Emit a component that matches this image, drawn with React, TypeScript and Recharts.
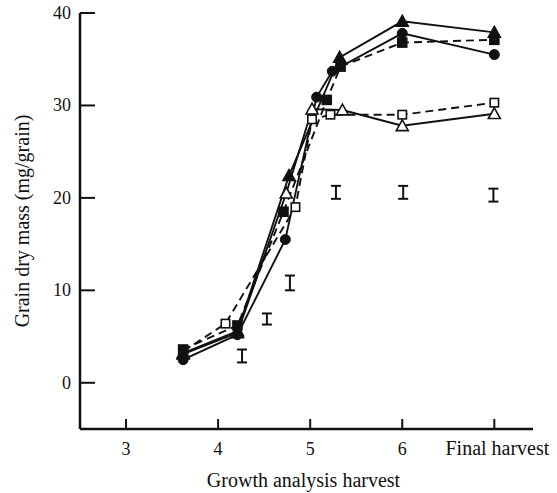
import React from 'react';
import { ComposedChart, Line, Scatter, ErrorBar, XAxis, YAxis } from 'recharts';

// Growth analysis harvest positions (7 = final harvest)
const xTicks = [3, 4, 5, 6, 7];
const xTickLabels = ['3', '4', '5', '6', 'Final harvest'];
const yTicks = [0, 10, 20, 30, 40];

const filledTriangle = [
  { x: 3.62, y: 3.2 },
  { x: 4.21, y: 5.6 },
  { x: 4.77, y: 22.4 },
  { x: 5.32, y: 35.2 },
  { x: 6.0, y: 39.1 },
  { x: 7.0, y: 37.9 },
];
const filledCircle = [
  { x: 3.62, y: 2.5 },
  { x: 4.21, y: 5.2 },
  { x: 4.73, y: 15.5 },
  { x: 5.07, y: 30.9 },
  { x: 5.24, y: 33.7 },
  { x: 6.0, y: 37.8 },
  { x: 7.0, y: 35.5 },
];
const filledSquare = [
  { x: 3.62, y: 3.6 },
  { x: 4.21, y: 6.2 },
  { x: 4.71, y: 18.5 },
  { x: 5.18, y: 30.6 },
  { x: 5.33, y: 34.2 },
  { x: 6.0, y: 36.8 },
  { x: 7.0, y: 37.1 },
];
const openTriangle = [
  { x: 3.62, y: 3.1 },
  { x: 4.21, y: 5.4 },
  { x: 4.74, y: 20.5 },
  { x: 5.02, y: 29.6 },
  { x: 5.35, y: 29.5 },
  { x: 6.0, y: 27.8 },
  { x: 7.0, y: 29.1 },
];
const openSquare = [
  { x: 3.62, y: 3.4 },
  { x: 4.08, y: 6.4 },
  { x: 4.84, y: 19.0 },
  { x: 5.02, y: 28.5 },
  { x: 5.22, y: 29.0 },
  { x: 6.0, y: 29.0 },
  { x: 7.0, y: 30.3 },
];
const lsdBars = [
  { x: 4.26, y: 2.9, err: 0.7 },
  { x: 4.53, y: 6.9, err: 0.6 },
  { x: 4.78, y: 10.8, err: 0.8 },
  { x: 5.28, y: 20.6, err: 0.7 },
  { x: 6.01, y: 20.6, err: 0.7 },
  { x: 6.99, y: 20.3, err: 0.7 },
];

const FONT = '"Liberation Serif", "Times New Roman", serif';
const INK = '#111';

type MarkerKind = 'triF' | 'triO' | 'cirF' | 'sqF' | 'sqO';

const makeDot = (kind: MarkerKind) => (props: any) => {
  const { cx, cy, index } = props;
  const key = `${kind}-${index}`;
  if (cx == null || cy == null) return <g key={key} />;
  if (kind === 'triF' || kind === 'triO') {
    const s = 6;
    const d = `M${cx},${cy - s} L${cx + s},${cy + s * 0.8} L${cx - s},${cy + s * 0.8} Z`;
    return (
      <path key={key} d={d} fill={kind === 'triF' ? INK : '#fff'} stroke={INK} strokeWidth={1.6} />
    );
  }
  if (kind === 'cirF') {
    return <circle key={key} cx={cx} cy={cy} r={5} fill={INK} stroke={INK} strokeWidth={1} />;
  }
  const h = kind === 'sqF' ? 4.5 : 4.2;
  return (
    <rect
      key={key}
      x={cx - h}
      y={cy - h}
      width={h * 2}
      height={h * 2}
      fill={kind === 'sqF' ? INK : '#fff'}
      stroke={INK}
      strokeWidth={1.6}
    />
  );
};

const XTick = (props: any) => {
  const { x, y, payload } = props;
  const idx = xTicks.indexOf(payload.value);
  const label = xTickLabels[idx] ?? String(payload.value);
  const isFinal = payload.value === 7;
  return (
    <g>
      <line x1={x} y1={y} x2={x} y2={y - 10} stroke={INK} strokeWidth={2} />
      <text
        x={isFinal ? x + 55 : x}
        y={y + 26}
        textAnchor={isFinal ? 'end' : 'middle'}
        fontFamily={FONT}
        fontSize={isFinal ? 20 : 18}
        fill={INK}
      >
        {label}
      </text>
    </g>
  );
};

const YTick = (props: any) => {
  const { x, y, payload } = props;
  return (
    <g>
      <line x1={x} y1={y} x2={x + 15} y2={y} stroke={INK} strokeWidth={2} />
      <text x={x - 9} y={y + 6} textAnchor="end" fontFamily={FONT} fontSize={18} fill={INK}>
        {payload.value}
      </text>
    </g>
  );
};

const XLabel = (props: any) => {
  const vb = props.viewBox || { x: 80, y: 429, width: 453 };
  return (
    <text
      x={vb.x + vb.width / 2 - 3}
      y={vb.y + 58}
      textAnchor="middle"
      fontFamily={FONT}
      fontSize={20}
      fill={INK}
    >
      Growth analysis harvest
    </text>
  );
};

const YLabel = (props: any) => {
  const vb = props.viewBox || { x: 0, y: 13, height: 416 };
  const cx = 29;
  const cy = vb.y + vb.height / 2;
  return (
    <text
      x={cx}
      y={cy}
      transform={`rotate(-90, ${cx}, ${cy})`}
      textAnchor="middle"
      fontFamily={FONT}
      fontSize={20}
      fill={INK}
    >
      Grain dry mass (mg/grain)
    </text>
  );
};

export default function App() {
  return (
    <div style={{ position: 'absolute', left: 0, top: 0, width: 557, height: 493, background: '#fff' }}>
      <ComposedChart
        width={557}
        height={493}
        margin={{ top: 13, right: 24, bottom: 0, left: 0 }}
        style={{ overflow: 'visible' }}
      >
        <XAxis
          dataKey="x"
          type="number"
          domain={[2.5, 7.42]}
          allowDataOverflow
          ticks={xTicks}
          interval={0}
          tickSize={0}
          tickMargin={0}
          tickLine={false}
          tick={<XTick />}
          height={64}
          axisLine={{ stroke: INK, strokeWidth: 2.5 }}
          label={<XLabel />}
        />
        <YAxis
          dataKey="y"
          type="number"
          domain={[-5, 40]}
          allowDataOverflow
          ticks={yTicks}
          interval={0}
          tickSize={0}
          tickMargin={0}
          tickLine={false}
          tick={<YTick />}
          width={80}
          axisLine={{ stroke: INK, strokeWidth: 2.5 }}
          label={<YLabel />}
        />
        <Scatter data={lsdBars} dataKey="y" isAnimationActive={false} shape={() => <g />}>
          <ErrorBar dataKey="err" direction="y" width={5} stroke={INK} strokeWidth={2} isAnimationActive={false} />
        </Scatter>
        <Line
          data={openTriangle}
          dataKey="y"
          stroke={INK}
          strokeWidth={1.9}
          dot={makeDot('triO')}
          activeDot={false}
          isAnimationActive={false}
        />
        <Line
          data={openSquare}
          dataKey="y"
          stroke={INK}
          strokeWidth={1.9}
          strokeDasharray="8 5"
          dot={makeDot('sqO')}
          activeDot={false}
          isAnimationActive={false}
        />
        <Line
          data={filledCircle}
          dataKey="y"
          stroke={INK}
          strokeWidth={1.9}
          dot={makeDot('cirF')}
          activeDot={false}
          isAnimationActive={false}
        />
        <Line
          data={filledSquare}
          dataKey="y"
          stroke={INK}
          strokeWidth={1.9}
          strokeDasharray="8 5"
          dot={makeDot('sqF')}
          activeDot={false}
          isAnimationActive={false}
        />
        <Line
          data={filledTriangle}
          dataKey="y"
          stroke={INK}
          strokeWidth={1.9}
          dot={makeDot('triF')}
          activeDot={false}
          isAnimationActive={false}
        />
      </ComposedChart>
    </div>
  );
}
